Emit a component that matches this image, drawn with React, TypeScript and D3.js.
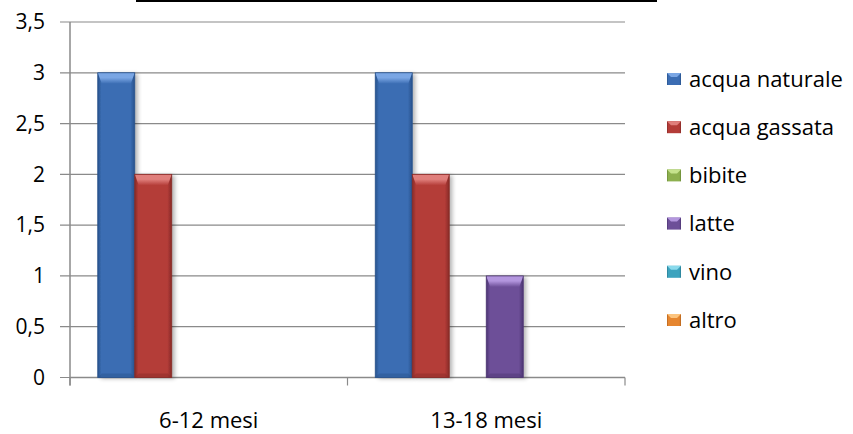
import React from "react";
import * as d3 from "d3";

const categories = ["6-12 mesi", "13-18 mesi"];
const seriesNames = ["acqua naturale", "acqua gassata", "bibite", "latte", "vino", "altro"];
const acquaNaturale = [3, 3];
const acquaGassata = [2, 2];
const bibite = [0, 0];
const latte = [0, 1];
const vino = [0, 0];
const altro = [0, 0];
const seriesValues = [acquaNaturale, acquaGassata, bibite, latte, vino, altro];
const yTicks = [0, 0.5, 1, 1.5, 2, 2.5, 3, 3.5];

const palette = [
  { base: "#3B6DB3", dark: "#28528C", light: "#7AA6E4" },
  { base: "#B43C38", dark: "#872A27", light: "#E07F7C" },
  { base: "#8DB04E", dark: "#6A8A36", light: "#C6E38D" },
  { base: "#6D4F98", dark: "#4C3572", light: "#B396DE" },
  { base: "#3CA3BE", dark: "#287C92", light: "#8ADAEC" },
  { base: "#E6862F", dark: "#B3631D", light: "#FCC47E" },
];

const FONT = "'Open Sans', 'DejaVu Sans', sans-serif";

function Bar({ x, y, w, h, i }: { x: number; y: number; w: number; h: number; i: number }) {
  if (h <= 0) return null;
  const bv = Math.min(11, h / 3);
  const se = Math.min(4, w / 6);
  const bb = Math.min(4, h / 6);
  return (
    <g>
      <rect x={x} y={y} width={w} height={h} fill={`url(#side${i})`} filter="url(#shadow)" />
      <polygon
        points={`${x},${y} ${x + w},${y} ${x + w - se},${y + bv} ${x + se},${y + bv}`}
        fill={`url(#top${i})`}
      />
      <polygon
        points={`${x},${y + h} ${x + w},${y + h} ${x + w - se},${y + h - bb} ${x + se},${y + h - bb}`}
        fill={palette[i].dark}
        opacity={0.45}
      />
      <rect x={x} y={y} width={w} height={h} fill="none" stroke={palette[i].dark} strokeWidth={0.8} />
    </g>
  );
}

export default function App() {
  const left = 70;
  const right = 625;
  const top = 22;
  const bottom = 377.5;

  const x0 = d3.scaleBand<string>().domain(categories).range([left, right]).paddingInner(0).paddingOuter(0);
  const x1 = d3
    .scaleBand<string>()
    .domain(seriesNames)
    .range([0, x0.bandwidth()])
    .paddingInner(0)
    .paddingOuter(0.75);
  const y = d3.scaleLinear().domain([0, 3.5]).range([bottom, top]);

  const legendY = d3.scalePoint<string>().domain(seriesNames).range([79, 320]);

  return (
    <svg
      width={853}
      height={434}
      style={{ position: "fixed", left: 0, top: 0, background: "#fff" }}
      fontFamily={FONT}
    >
      <defs>
        <filter id="shadow" x="-20%" y="-10%" width="150%" height="130%">
          <feGaussianBlur in="SourceAlpha" stdDeviation="2" />
          <feOffset dx="3" dy="1" result="ob" />
          <feComponentTransfer>
            <feFuncA type="linear" slope="0.3" />
          </feComponentTransfer>
          <feMerge>
            <feMergeNode />
            <feMergeNode in="SourceGraphic" />
          </feMerge>
        </filter>
        {palette.map((p, i) => (
          <React.Fragment key={i}>
            <linearGradient id={`side${i}`} x1="0" x2="1" y1="0" y2="0">
              <stop offset="0%" stopColor={p.dark} />
              <stop offset="10%" stopColor={p.base} />
              <stop offset="50%" stopColor={p.base} />
              <stop offset="88%" stopColor={p.base} />
              <stop offset="100%" stopColor={p.dark} />
            </linearGradient>
            <linearGradient id={`top${i}`} x1="0" x2="0" y1="0" y2="1">
              <stop offset="0%" stopColor={p.light} />
              <stop offset="45%" stopColor={p.light} />
              <stop offset="100%" stopColor={p.base} />
            </linearGradient>
          </React.Fragment>
        ))}
      </defs>

      {/* top title border fragment */}
      <line x1={136} x2={657} y1={1} y2={1} stroke="#000" strokeWidth={2} />

      {/* gridlines */}
      {yTicks.map((t) => (
        <line key={t} x1={left - 10} x2={right} y1={y(t)} y2={y(t)} stroke="#8a8a8a" strokeWidth={1.2} />
      ))}
      {/* y axis */}
      <line x1={left} x2={left} y1={top} y2={bottom + 8} stroke="#8a8a8a" strokeWidth={1.5} />
      {/* x axis */}
      <line x1={left} x2={right} y1={bottom} y2={bottom} stroke="#8a8a8a" strokeWidth={1.5} />
      {[left, ...categories.map((c) => (x0(c) as number) + x0.bandwidth())].map((xv, k) => (
        <line key={k} x1={xv} x2={xv} y1={bottom} y2={bottom + 8} stroke="#8a8a8a" strokeWidth={1.2} />
      ))}

      {/* y labels */}
      {yTicks.map((t) => (
        <text key={t} x={45} y={y(t)} dy="0.35em" textAnchor="end" fontSize={21} fill="#000">
          {String(t).replace(".", ",")}
        </text>
      ))}

      {/* bars */}
      {categories.map((c, ci) =>
        seriesNames.map((s, si) => {
          const v = seriesValues[si][ci];
          const bx = (x0(c) as number) + (x1(s) as number);
          return (
            <Bar
              key={`${c}-${s}`}
              x={bx}
              y={y(v)}
              w={x1.bandwidth()}
              h={y(0) - y(v)}
              i={si}
            />
          );
        })
      )}

      {/* x labels */}
      {categories.map((c) => (
        <text
          key={c}
          x={(x0(c) as number) + x0.bandwidth() / 2}
          y={428}
          textAnchor="middle"
          fontSize={22}
          fill="#000"
        >
          {c}
        </text>
      ))}

      {/* legend */}
      {seriesNames.map((s, i) => {
        const ly = legendY(s) as number;
        const p = palette[i];
        return (
          <g key={s}>
            <rect x={667} y={ly - 6} width={14} height={12} fill={`url(#side${i})`} />
            <polygon
              points={`${667},${ly - 6} ${681},${ly - 6} ${677},${ly - 2} ${671},${ly - 2}`}
              fill={p.light}
            />
            <text x={689} y={ly} dy="0.35em" fontSize={22} fill="#000">
              {s}
            </text>
          </g>
        );
      })}
    </svg>
  );
}
